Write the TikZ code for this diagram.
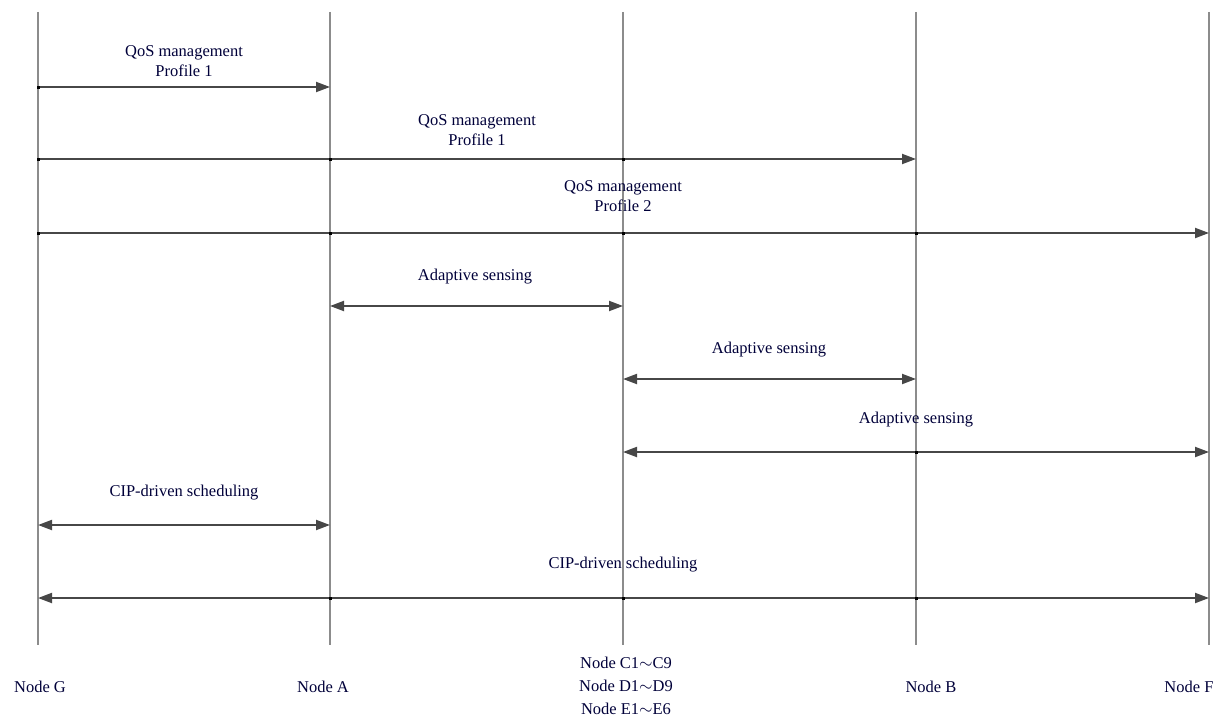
\documentclass[tikz,border=0pt]{standalone}
\usepackage{fontspec}
\setmainfont{Liberation Serif}
\usetikzlibrary{arrows.meta}
\begin{document}
\begin{tikzpicture}[x=1pt,y=-1pt,
  lifeline/.style={draw=black!45,line width=1.2pt},
  msg/.style={draw=black!72,line width=2pt},
  tipR/.style={-{Triangle[length=14pt,width=10pt]}},
  tipLR/.style={{Triangle[length=14pt,width=10pt]}-{Triangle[length=14pt,width=10pt]}},
  lbl/.style={font=\fontsize{16.5}{20}\selectfont,text=black!75!blue!90!black,align=center,inner sep=0pt},
  nlbl/.style={font=\fontsize{16.5}{23}\selectfont,text=black!75!blue!90!black,align=center,inner sep=0pt},
  knot/.style={fill=black,inner sep=0pt,minimum size=3pt}]
\useasboundingbox (0,0) rectangle (1217,717);

% lifelines
\foreach \n/\x in {G/38,A/330,C/623,B/916,F/1209}{
  \coordinate (\n top) at (\x,12);
  \coordinate (\n bot) at (\x,645);
  \draw[lifeline] (\n top) -- (\n bot);
}

% message rows
\foreach \r/\y in {1/87,2/159,3/233,4/306,5/379,6/452,7/525,8/598}{
  \coordinate (r\r) at (0,\y);
}

% QoS management messages
\draw[msg,tipR] (Gtop|-r1) -- (Atop|-r1);
\draw[msg,tipR] (Gtop|-r2) -- (Btop|-r2);
\draw[msg,tipR] (Gtop|-r3) -- (Ftop|-r3);
\node[lbl] (q1) at (184,61) {QoS management\\Profile 1};
\node[lbl] (q2) at (477,130) {QoS management\\Profile 1};
\node[lbl] (q3) at (623,196) {QoS management\\Profile 2};

% adaptive sensing
\draw[msg,tipLR] (Atop|-r4) -- (Ctop|-r4);
\draw[msg,tipLR] (Ctop|-r5) -- (Btop|-r5);
\draw[msg,tipLR] (Ctop|-r6) -- (Ftop|-r6);
\node[lbl] (s1) at (475,277) {Adaptive sensing};
\node[lbl] (s2) at (769,350) {Adaptive sensing};
\node[lbl] (s3) at (916,420) {Adaptive sensing};

% CIP-driven scheduling
\draw[msg,tipLR] (Gtop|-r7) -- (Atop|-r7);
\draw[msg,tipLR] (Gtop|-r8) -- (Ftop|-r8);
\node[lbl] (c1) at (184,493) {CIP-driven scheduling};
\node[lbl] (c2) at (623,565) {CIP-driven scheduling};

% crossing marks
\foreach \p in {(Gtop|-r1),(Gtop|-r2),(Atop|-r2),(Ctop|-r2),(Gtop|-r3),(Atop|-r3),(Ctop|-r3),(Btop|-r3),(Btop|-r6),(Atop|-r8),(Ctop|-r8),(Btop|-r8)}
  \node[knot] at \p {};

% node names
\node[nlbl] (nG) at (40,687) {Node G};
\node[nlbl] (nA) at (323,687) {Node A};
\node[nlbl] (nC) at (626,686) {Node C1$\sim$C9\\Node D1$\sim$D9\\Node E1$\sim$E6};
\node[nlbl] (nB) at (931,687) {Node B};
\node[nlbl] (nF) at (1189,687) {Node F};
\end{tikzpicture}
\end{document}
